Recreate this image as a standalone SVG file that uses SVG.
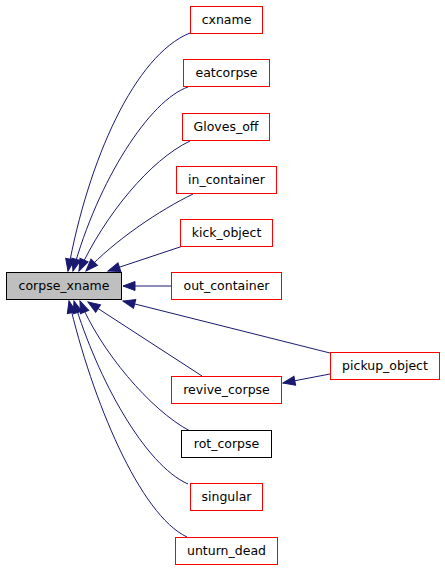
<svg xmlns="http://www.w3.org/2000/svg" width="445" height="571" viewBox="0 0 445 571">
<defs>
<marker id="ah" markerUnits="userSpaceOnUse" markerWidth="14" markerHeight="11" refX="12" refY="4.5" orient="auto" overflow="visible">
<path d="M0,0 L12,4.5 L0,9 z" fill="#191970" stroke="#191970" stroke-width="1"/>
</marker>
<style>
.n rect{fill:#ffffff;stroke:#ff0000;stroke-width:1}
.n text{font-family:"DejaVu Sans",sans-serif;font-size:12.5px;text-anchor:middle;fill:#000000}
#n_corpse_xname rect{fill:#bfbfbf;stroke:#000000}
#n_rot_corpse rect{stroke:#000000}
.e path{fill:none;stroke:#191970;stroke-width:1;marker-end:url(#ah)}
</style>
</defs>
<rect width="445" height="571" fill="#ffffff"/>
<g id="edges" class="e">
<path d="M190,33 C135,55 88,160 68,271"/>
<path d="M188,87 C150,100 98,180 73,271"/>
<path d="M190,141 C150,160 105,215 79,271"/>
<path d="M193,194 C160,210 115,240 86,271"/>
<path d="M183,246 L108,271"/>
<path d="M171,286 L123,286"/>
<path d="M330,353 L123,301"/>
<path d="M202,376 L88,302"/>
<path d="M190,431 C150,410 100,350 80,301"/>
<path d="M188,484 C145,465 98,380 74,301"/>
<path d="M187,537 C140,515 92,400 69,301"/>
<path d="M330,374 L283,383"/>
</g>
<g id="n_corpse_xname" class="n"><rect x="6.5" y="272.5" width="115" height="27"/><text x="64" y="290">corpse_xname</text></g>
<g id="n_cxname" class="n"><rect x="190.5" y="6.5" width="72" height="27"/><text x="226.5" y="24">cxname</text></g>
<g id="n_eatcorpse" class="n"><rect x="183.5" y="59.5" width="86" height="27"/><text x="226.5" y="77">eatcorpse</text></g>
<g id="n_Gloves_off" class="n"><rect x="182.5" y="113.5" width="87" height="27"/><text x="226" y="131">Gloves_off</text></g>
<g id="n_in_container" class="n"><rect x="176.5" y="166.5" width="100" height="27"/><text x="226.5" y="184">in_container</text></g>
<g id="n_kick_object" class="n"><rect x="180.5" y="219.5" width="92" height="27"/><text x="226.5" y="237">kick_object</text></g>
<g id="n_out_container" class="n"><rect x="171.5" y="272.5" width="110" height="27"/><text x="226.5" y="290">out_container</text></g>
<g id="n_pickup_object" class="n"><rect x="330.5" y="352.5" width="109" height="27"/><text x="385" y="370">pickup_object</text></g>
<g id="n_revive_corpse" class="n"><rect x="171.5" y="376.5" width="110" height="27"/><text x="226.5" y="394">revive_corpse</text></g>
<g id="n_rot_corpse" class="n"><rect x="181.5" y="430.5" width="90" height="27"/><text x="226.5" y="448">rot_corpse</text></g>
<g id="n_singular" class="n"><rect x="190.5" y="483.5" width="72" height="27"/><text x="226.5" y="501">singular</text></g>
<g id="n_unturn_dead" class="n"><rect x="175.5" y="537.5" width="102" height="27"/><text x="226.5" y="555">unturn_dead</text></g>
</svg>
